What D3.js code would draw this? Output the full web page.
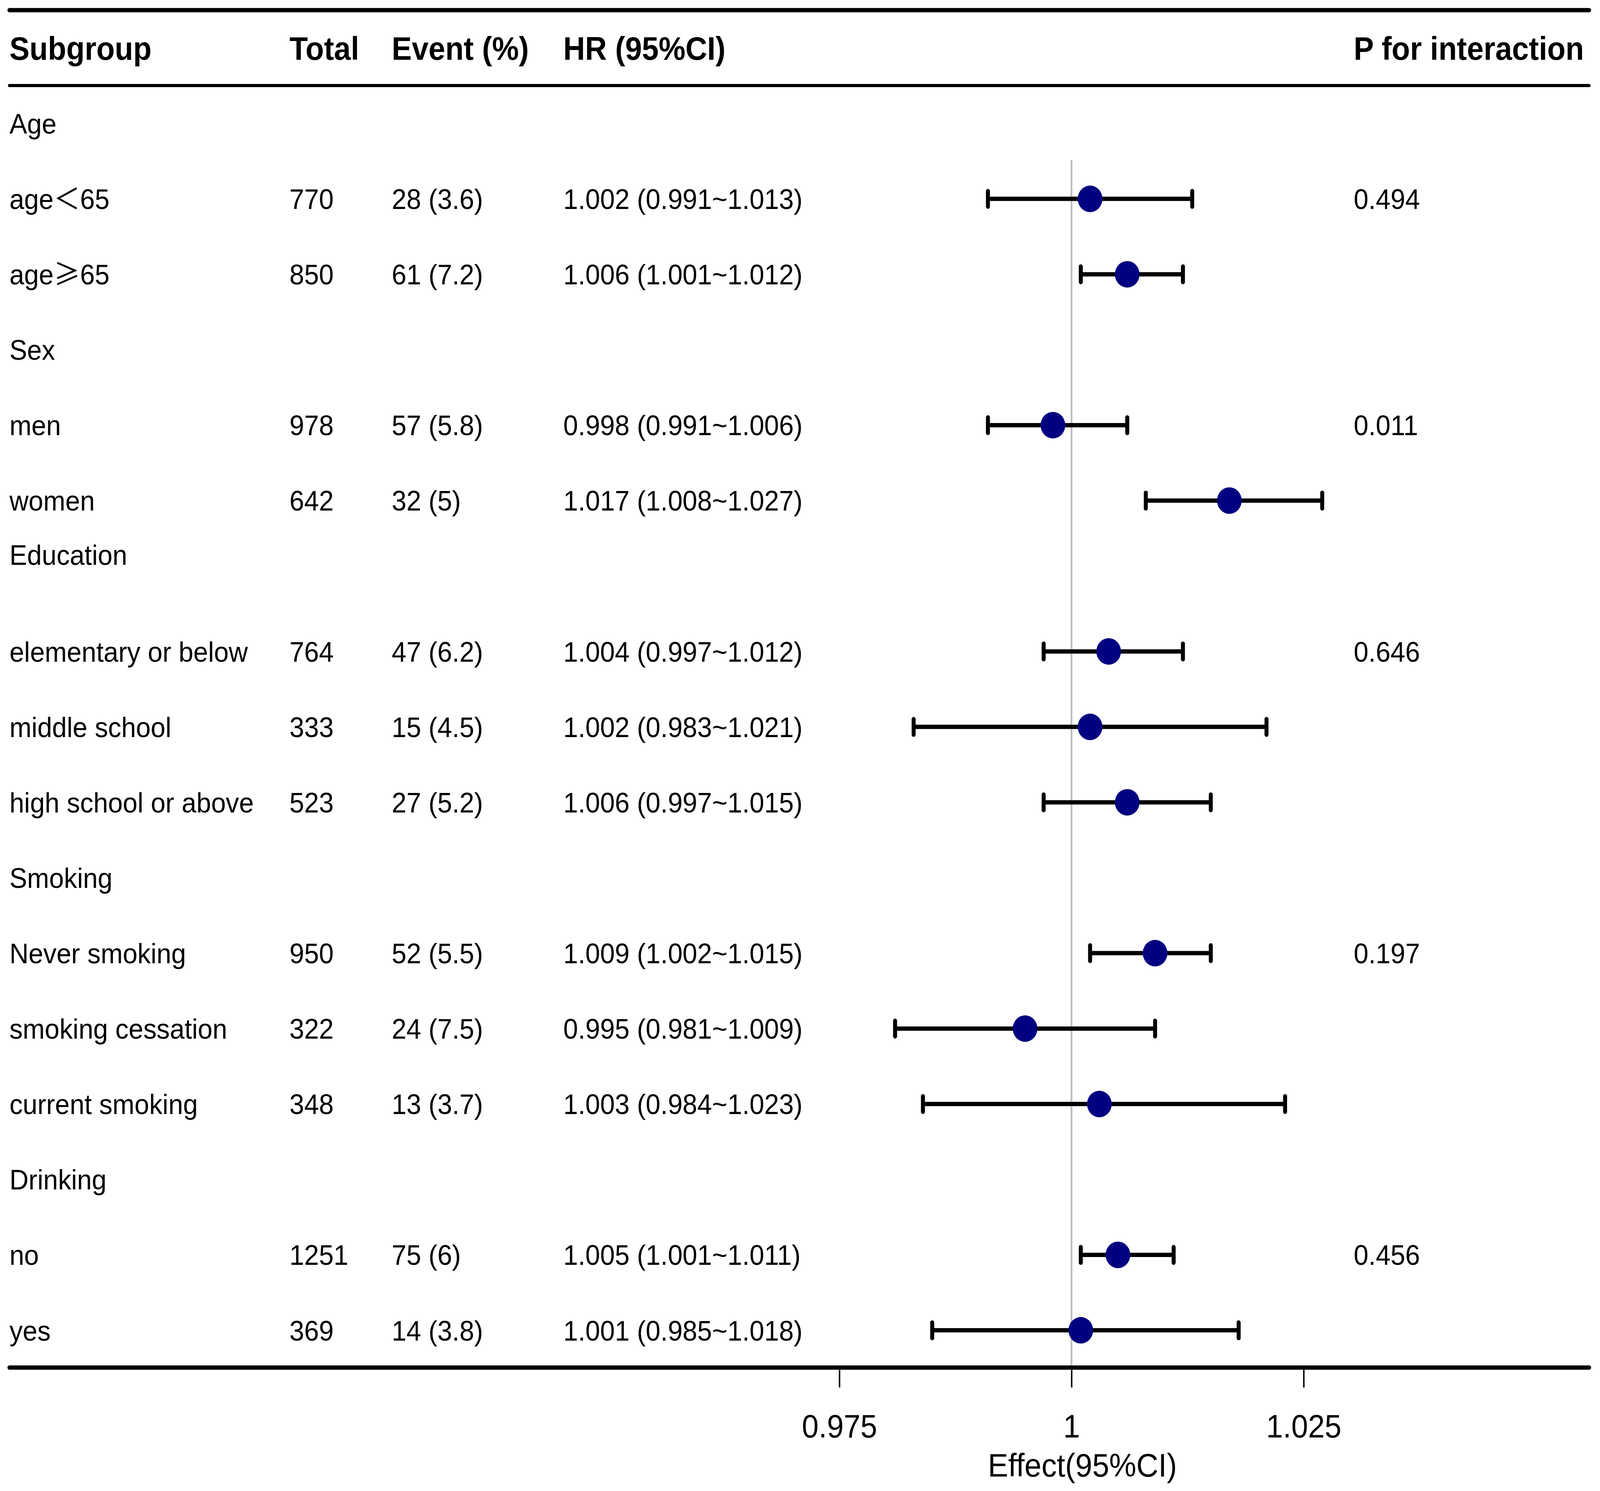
<!DOCTYPE html>
<html>
<head>
<meta charset="utf-8">
<script src="https://cdn.jsdelivr.net/npm/d3@7"></script>
<style>
  html, body { margin: 0; padding: 0; background: #ffffff; overflow: hidden; width: 100%; height: 100%; }
  svg { display: block; width: 100vw; height: 100vh; }
  text { font-family: "Liberation Sans", Arial, "Noto Sans CJK SC", sans-serif; fill: #000; }
</style>
</head>
<body>
<svg id="chart" viewBox="0 0 4411 3817" preserveAspectRatio="none"></svg>
<script>
// ---------------- data ----------------
const headers = ["Subgroup", "Total", "Event (%)", "HR (95%CI)", "P for interaction"];

const subgroups = ["Age", "age＜65", "age≥65", "Sex", "men", "women", "Education",
  "elementary or below", "middle school", "high school or above", "Smoking",
  "Never smoking", "smoking cessation", "current smoking", "Drinking", "no", "yes"];

const totals = ["", "770", "850", "", "978", "642", "", "764", "333", "523", "",
  "950", "322", "348", "", "1251", "369"];

const events = ["", "28 (3.6)", "61 (7.2)", "", "57 (5.8)", "32 (5)", "",
  "47 (6.2)", "15 (4.5)", "27 (5.2)", "", "52 (5.5)", "24 (7.5)", "13 (3.7)", "",
  "75 (6)", "14 (3.8)"];

const hrLabels = ["", "1.002 (0.991~1.013)", "1.006 (1.001~1.012)", "", "0.998 (0.991~1.006)",
  "1.017 (1.008~1.027)", "", "1.004 (0.997~1.012)", "1.002 (0.983~1.021)",
  "1.006 (0.997~1.015)", "", "1.009 (1.002~1.015)", "0.995 (0.981~1.009)",
  "1.003 (0.984~1.023)", "", "1.005 (1.001~1.011)", "1.001 (0.985~1.018)"];

const hrEst   = [null, 1.002, 1.006, null, 0.998, 1.017, null, 1.004, 1.002, 1.006, null, 1.009, 0.995, 1.003, null, 1.005, 1.001];
const hrLower = [null, 0.991, 1.001, null, 0.991, 1.008, null, 0.997, 0.983, 0.997, null, 1.002, 0.981, 0.984, null, 1.001, 0.985];
const hrUpper = [null, 1.013, 1.012, null, 1.006, 1.027, null, 1.012, 1.021, 1.015, null, 1.015, 1.009, 1.023, null, 1.011, 1.018];

const pValues = ["", "0.494", "", "", "0.011", "", "", "0.646", "", "", "", "0.197", "", "", "", "0.456", ""];

const tickValues = [0.975, 1, 1.025];
const tickLabels = ["0.975", "1", "1.025"];
const axisTitle = "Effect(95%CI)";
const refValue = 1;

// ---------------- layout ----------------
const svg = d3.select("#chart");
const W = 4411, H = 3817;
svg.append("rect").attr("width", W).attr("height", H).attr("fill", "#fff");

const colX = [26, 798, 1080, 1553, 3732];
const headFont = 83, bodyFont = 73;
const lineL = 26, lineR = 4381;

const nRows = subgroups.length;
const rowIdx = d3.range(nRows);
const y = d3.scaleLinear().domain([0, nRows - 1]).range([316, 316 + 16 * 193.1]);
// the "Education" label sits higher in its cell in the reference
const labelShift = i => (subgroups[i] === "Education" ? -55 : 0);

const x = d3.scaleLinear().domain([0.975, 1.025]).range([2314, 3594]);

// rules
const rule = (yy, w) => svg.append("line")
  .attr("x1", lineL).attr("x2", lineR).attr("y1", yy).attr("y2", yy)
  .attr("stroke", "#000").attr("stroke-width", w).attr("stroke-linecap", "round");

// reference line
svg.append("line")
  .attr("x1", x(refValue)).attr("x2", x(refValue))
  .attr("y1", 410).attr("y2", 3496)
  .attr("stroke", "#bebebe").attr("stroke-width", 5);

rule(26, 11);
rule(219, 8);
rule(3501, 11);

// header
svg.append("g").selectAll("text").data(headers).join("text")
  .attr("x", (d, i) => colX[i]).attr("y", 153)
  .attr("font-size", headFont).attr("font-weight", "bold")
  .text(d => d);

// body text columns
const columns = [subgroups, totals, events, hrLabels, pValues];
const body = svg.append("g");
columns.forEach((col, c) => {
  const t = body.append("g").selectAll("text").data(rowIdx).join("text")
    .attr("x", colX[c])
    .attr("y", i => y(i) + labelShift(i) + 26)
    .attr("font-size", bodyFont);
  t.each(function (i) {
    const s = col[i];
    const el = d3.select(this);
    // comparison signs use the wide CJK glyphs as in the reference
    const parts = s.split(/([＜≥])/).filter(p => p !== "");
    parts.forEach(p => {
      const ts = el.append("tspan").text(p);
      if (p === "＜" || p === "≥") ts.style("font-family", "'Noto Sans CJK SC', sans-serif");
    });
  });
});

// CIs and points
const ciRows = rowIdx.filter(i => hrEst[i] !== null);
const ci = svg.append("g");
ci.selectAll("line.ci").data(ciRows).join("line").attr("class", "ci")
  .attr("x1", i => x(hrLower[i])).attr("x2", i => x(hrUpper[i]))
  .attr("y1", i => y(i)).attr("y2", i => y(i))
  .attr("stroke", "#000").attr("stroke-width", 11);
ci.selectAll("line.capL").data(ciRows).join("line").attr("class", "capL")
  .attr("x1", i => x(hrLower[i])).attr("x2", i => x(hrLower[i]))
  .attr("y1", i => y(i) - 20).attr("y2", i => y(i) + 20)
  .attr("stroke", "#000").attr("stroke-width", 11).attr("stroke-linecap", "round");
ci.selectAll("line.capR").data(ciRows).join("line").attr("class", "capR")
  .attr("x1", i => x(hrUpper[i])).attr("x2", i => x(hrUpper[i]))
  .attr("y1", i => y(i) - 20).attr("y2", i => y(i) + 20)
  .attr("stroke", "#000").attr("stroke-width", 11).attr("stroke-linecap", "round");
ci.selectAll("circle").data(ciRows).join("circle")
  .attr("cx", i => x(hrEst[i])).attr("cy", i => y(i)).attr("r", 34)
  .attr("fill", "#000080");

// x axis
const axis = d3.axisBottom(x).tickValues(tickValues)
  .tickFormat((d, i) => tickLabels[i]).tickSize(45).tickPadding(0);
const gAxis = svg.append("g").attr("transform", "translate(0,3507)").call(axis);
gAxis.select(".domain").remove();
gAxis.selectAll(".tick line").attr("stroke", "#000").attr("stroke-width", 4);
gAxis.selectAll(".tick text")
  .attr("y", 173).attr("dy", null)
  .attr("font-size", 83)
  .attr("font-family", "'Liberation Sans', Arial, sans-serif")
  .attr("fill", "#000");

svg.append("text")
  .attr("x", 2984).attr("y", 3780)
  .attr("text-anchor", "middle")
  .attr("font-size", 84)
  .text(axisTitle);
</script>
</body>
</html>
